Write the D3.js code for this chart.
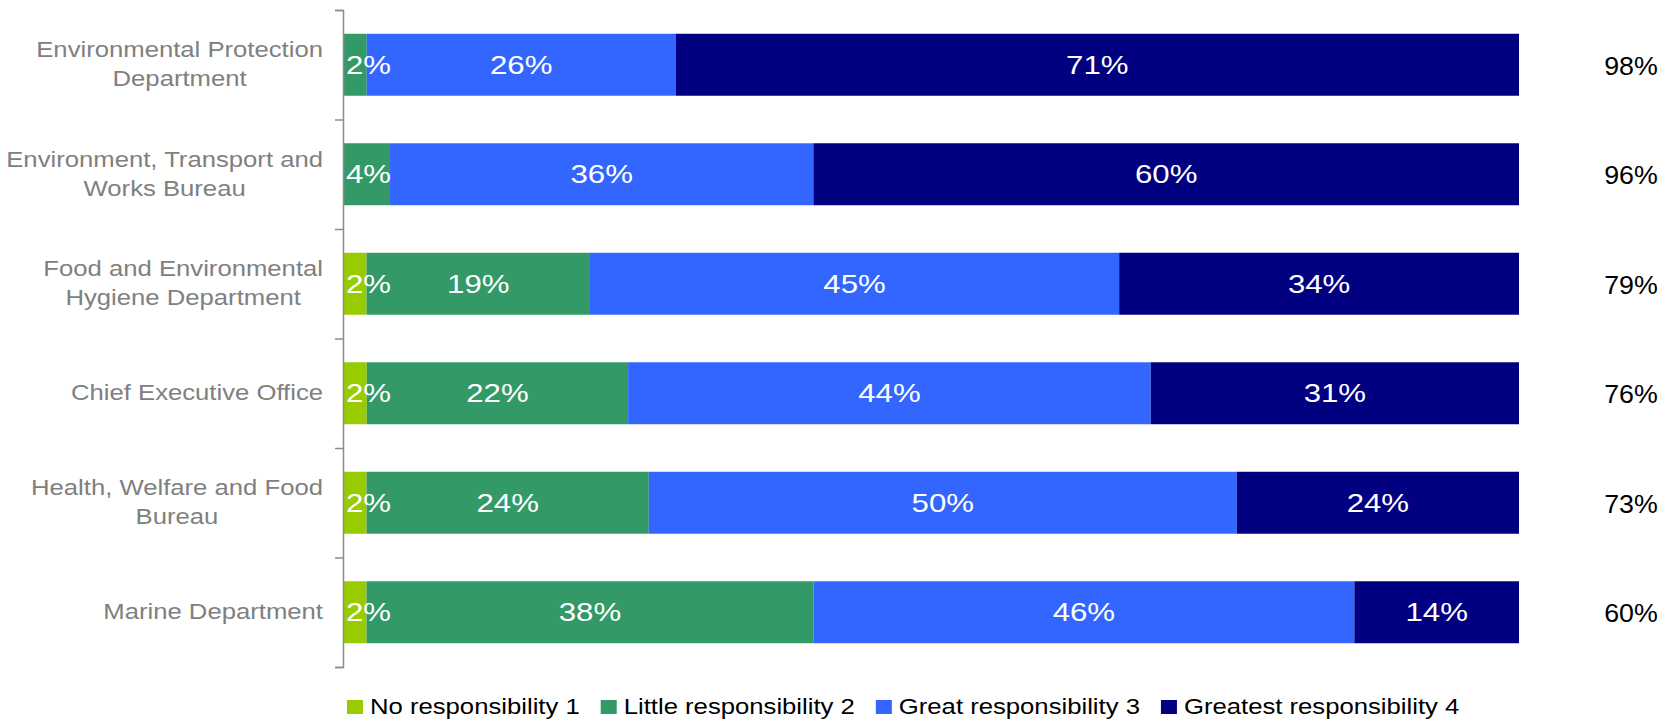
<!DOCTYPE html>
<html>
<head>
<meta charset="utf-8">
<script src="https://cdn.jsdelivr.net/npm/d3@7"></script>
<style>
  body { margin: 0; background: #fff; }
  svg { display: block; }
</style>
</head>
<body>
<div id="chart"></div>
<script>
// categories (line breaks as in the original labels)
const categories = [
    "Environmental Protection\nDepartment",
    "Environment, Transport and\nWorks Bureau",
    "Food and Environmental\nHygiene Department",
    "Chief Executive Office",
    "Health, Welfare and Food\nBureau",
    "Marine Department"
];
const seriesNames = ["No responsibility 1", "Little responsibility 2", "Great responsibility 3", "Greatest responsibility 4"];
const noResponsibility = [0, 0, 2, 2, 2, 2];
const littleResponsibility = [2, 4, 19, 22, 24, 38];
const greatResponsibility = [26, 36, 45, 44, 50, 46];
const greatestResponsibility = [71, 60, 34, 31, 24, 14];
const totals = [98, 96, 79, 76, 73, 60];
const colors = ["#99cc00", "#339966", "#3366ff", "#000080"];

// size
let width = 1667, height = 720;
let margin = {top: 10, right: 148, bottom: 53, left: 343};
let stretch = 1.2; // text in the original is drawn a bit wide

let rows = categories.map((c, i) => ({
    cat: c,
    [seriesNames[0]]: noResponsibility[i],
    [seriesNames[1]]: littleResponsibility[i],
    [seriesNames[2]]: greatResponsibility[i],
    [seriesNames[3]]: greatestResponsibility[i],
    total: totals[i]
}));

let series = d3.stack()
    .keys(seriesNames)
    .offset(d3.stackOffsetExpand)(rows);

// Scales
let xScale = d3.scaleLinear()
    .domain([0, 1])
    .range([margin.left, width - margin.right]);
let yScale = d3.scaleBand()
    .domain(categories)
    .range([margin.top, height - margin.bottom])
    .paddingInner(0.434)
    .paddingOuter(0.217);
let yEdges = d3.scaleLinear()
    .domain([0, categories.length])
    .range([margin.top, height - margin.bottom]);
let color = d3.scaleOrdinal().domain(seriesNames).range(colors);

let svg = d3.select("#chart").append("svg")
    .attr("width", width)
    .attr("height", height)
    .style("font-family", "'Liberation Sans', Arial, sans-serif");

// bars
let layers = svg.append("g").selectAll("g")
    .data(series)
    .join("g")
    .attr("fill", d => color(d.key));

layers.selectAll("rect")
    .data(d => d.map(p => Object.assign(p, {key: d.key})))
    .join("rect")
    .attr("x", d => xScale(d[0]))
    .attr("y", d => yScale(d.data.cat))
    .attr("width", d => xScale(d[1]) - xScale(d[0]))
    .attr("height", yScale.bandwidth());

// labels in the bars
let labels = svg.append("g")
    .attr("fill", "#fff")
    .style("font-size", "26px");

series.forEach(s => {
    s.forEach(d => {
        let v = d.data[s.key];
        if (!v) return;
        let x0 = xScale(d[0]), x1 = xScale(d[1]);
        let cy = yScale(d.data.cat) + yScale.bandwidth() / 2 + 9;
        let t = labels.append("text")
            .attr("text-anchor", "middle")
            .text(v + "%");
        let w = t.node().getComputedTextLength() * stretch;
        if (w > x1 - x0 - 4) {
            t.attr("text-anchor", "start")
             .attr("transform", `translate(${x0 + 3},${cy}) scale(${stretch},1)`);
        } else {
            t.attr("transform", `translate(${(x0 + x1) / 2},${cy}) scale(${stretch},1)`);
        }
    });
});

// axis on the left, ticks between categories
let yAxis = d3.axisLeft(yEdges)
    .tickValues(d3.range(categories.length + 1))
    .tickFormat("")
    .tickSize(8);
let axisG = svg.append("g")
    .attr("transform", `translate(${margin.left},0)`)
    .call(yAxis);
axisG.selectAll("path, line")
    .attr("stroke", "#8c8c8c")
    .attr("stroke-width", 1.5);

// category labels, lines centered on each other, block right aligned
let catG = svg.append("g")
    .attr("fill", "#808080")
    .style("font-size", "21.4px");

categories.forEach(c => {
    let lines = c.split("\n");
    let cy = yScale(c) + yScale.bandwidth() / 2;
    let t = catG.append("text").attr("text-anchor", "middle");
    lines.forEach((l, i) => {
        t.append("tspan")
            .attr("x", 0)
            .attr("y", 7 + (i - (lines.length - 1) / 2) * 29)
            .text(l);
    });
    let w = t.node().getBBox().width * stretch;
    t.attr("transform", `translate(${323 - w / 2},${cy}) scale(${stretch},1)`);
});

// totals on the right
svg.append("g")
    .style("font-size", "26px")
    .attr("fill", "#000")
    .selectAll("text")
    .data(rows)
    .join("text")
    .attr("text-anchor", "middle")
    .attr("transform", d => `translate(1631,${yScale(d.cat) + yScale.bandwidth() / 2 + 10}) scale(1.03,1)`)
    .text(d => d.total + "%");

// legend
let legend = svg.append("g")
    .attr("transform", "translate(347,700)")
    .style("font-size", "21.4px");
let lx = 0;
seriesNames.forEach(k => {
    let item = legend.append("g").attr("transform", `translate(${lx},0)`);
    item.append("rect")
        .attr("width", 16)
        .attr("height", 14)
        .attr("fill", color(k));
    let t = item.append("text")
        .attr("transform", `translate(23,14) scale(${stretch},1)`)
        .attr("fill", "#000")
        .text(k);
    lx += 23 + t.node().getComputedTextLength() * stretch + 21;
});
</script>
</body>
</html>
